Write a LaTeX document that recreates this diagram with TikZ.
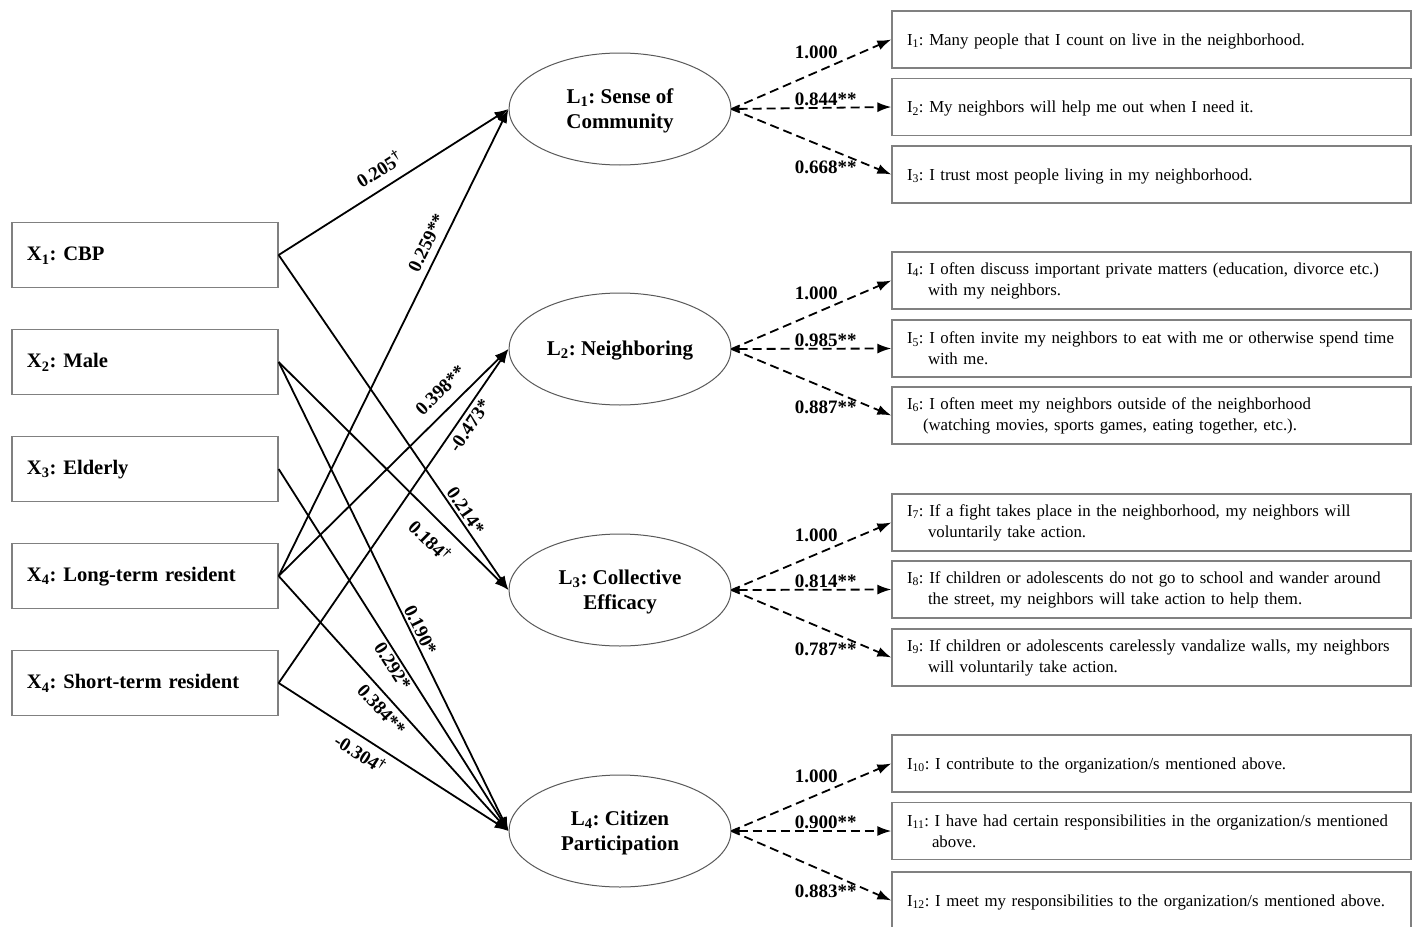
\documentclass[tikz,border=0pt]{standalone}
\usepackage{fontspec}
\setmainfont{Liberation Serif}
\usetikzlibrary{arrows.meta,shapes.geometric}
\begin{document}
\frenchspacing
\begin{tikzpicture}[x=1pt,y=-1pt,
  xbox/.style={draw=gray, line width=1.3pt, minimum width=266pt, minimum height=65pt, text width=236pt, align=left, inner xsep=15pt, font=\fontsize{20.6}{25}\selectfont\bfseries\frenchspacing},
  lat/.style={ellipse, draw=gray!70!black, line width=1pt, minimum width=222pt, minimum height=112pt, inner sep=0pt, align=center, font=\fontsize{21}{25}\selectfont\bfseries\frenchspacing},
  ibox/.style={draw=gray, line width=1.3pt, minimum width=519pt, minimum height=57pt, text width=489pt, align=left, inner xsep=15pt, font=\fontsize{16.8}{21}\selectfont\frenchspacing},
  pth/.style={line width=1.8pt, -{Latex[length=14pt,width=10pt]}},
  load/.style={line width=1.8pt, dash pattern=on 9pt off 5pt, -{Latex[length=14pt,width=10pt]}},
  loadm/.style={load, {Latex[length=8pt,width=7pt]}-{Latex[length=14pt,width=10pt]}},
  coef/.style={font=\fontsize{19}{22}\selectfont\bfseries, inner sep=1pt},
]
\useasboundingbox (0,0) rectangle (1413,926);
\fill[white] (0,0) rectangle (1413,926);

% exogenous boxes
\node[xbox] (x1) at (145,255) {\rule{0pt}{15pt}X\textsubscript{1}: CBP};
\node[xbox] (x2) at (145,362) {\rule{0pt}{15pt}X\textsubscript{2}: Male};
\node[xbox] (x3) at (145,469) {\rule{0pt}{15pt}X\textsubscript{3}: Elderly};
\node[xbox] (x4) at (145,576) {\rule{0pt}{15pt}X\textsubscript{4}: Long-term resident};
\node[xbox] (x5) at (145,683) {\rule{0pt}{15pt}X\textsubscript{4}: Short-term resident};

% latent
\node[lat] (L1) at (620,109) {\rule{0pt}{18pt}L\textsubscript{1}: Sense of\\Community};
\node[lat] (L2) at (620,349) {\rule{0pt}{18pt}L\textsubscript{2}: Neighboring};
\node[lat] (L3) at (620,590) {\rule{0pt}{18pt}L\textsubscript{3}: Collective\\Efficacy};
\node[lat] (L4) at (620,831) {\rule{0pt}{18pt}L\textsubscript{4}: Citizen\\Participation};

% indicators
\node[ibox] (i1) at (1151.5,39.5) {\rule{0pt}{15pt}\mbox{I\textsubscript{1}: Many people that I count on live in the neighborhood.}};
\node[ibox] (i2) at (1151.5,107) {\rule{0pt}{15pt}\mbox{I\textsubscript{2}: My neighbors will help me out when I need it.}};
\node[ibox] (i3) at (1151.5,174.5) {\rule{0pt}{15pt}\mbox{I\textsubscript{3}: I trust most people living in my neighborhood.}};
\node[ibox] (i4) at (1151.5,280.5) {\mbox{I\textsubscript{4}: I often discuss important private matters (education, divorce etc.)}\\\hspace*{21pt}with my neighbors.};
\node[ibox] (i5) at (1151.5,348.5) {\mbox{I\textsubscript{5}: I often invite my neighbors to eat with me or otherwise spend time}\\\hspace*{21pt}with me.};
\node[ibox] (i6) at (1151.5,415.5) {\mbox{I\textsubscript{6}: I often meet my neighbors outside of the neighborhood}\\\hspace*{16pt}\mbox{(watching movies, sports games, eating together, etc.).}};
\node[ibox] (i7) at (1151.5,522.5) {\mbox{I\textsubscript{7}: If a fight takes place in the neighborhood, my neighbors will}\\\hspace*{21pt}voluntarily take action.};
\node[ibox] (i8) at (1151.5,589.5) {\mbox{I\textsubscript{8}: If children or adolescents do not go to school and wander around}\\\hspace*{21pt}\mbox{the street, my neighbors will take action to help them.}};
\node[ibox] (i9) at (1151.5,657.5) {\mbox{I\textsubscript{9}: If children or adolescents carelessly vandalize walls, my neighbors}\\\hspace*{21pt}will voluntarily take action.};
\node[ibox] (i10) at (1151.5,763.5) {\rule{0pt}{15pt}\mbox{I\textsubscript{10}: I contribute to the organization/s mentioned above.}};
\node[ibox] (i11) at (1151.5,831) {\mbox{I\textsubscript{11}: I have had certain responsibilities in the organization/s mentioned}\\\hspace*{25pt}above.};
\node[ibox] (i12) at (1151.5,900.5) {\rule{0pt}{15pt}\mbox{I\textsubscript{12}: I meet my responsibilities to the organization/s mentioned above.}};

% structural paths
\draw[pth] (x1.east) -- node[coef, sloped, above=9pt, pos=.48]{0.205\textsuperscript{†}} (L1.west);
\draw[pth] (x4.east) -- node[coef, sloped, above=6pt, pos=.70]{0.259**} (L1.west);
\draw[pth] (x4.east) -- node[coef, sloped, above=10pt, pos=.76]{0.398**} (L2.west);
\draw[pth] (x5.east) -- node[coef, sloped, below=3pt, pos=.79]{-0.473*} (L2.west);
\draw[pth] (x1.east) -- node[coef, sloped, above=1pt, pos=.78]{0.214*} (L3.west);
\draw[pth] (x2.east) -- node[coef, sloped, below=10pt, pos=.72]{0.184\textsuperscript{†}} (L3.west);
\draw[pth] (x2.east) -- node[coef, sloped, above=1pt, pos=.58]{0.190*} (L4.west);
\draw[pth] (x3.east) -- node[coef, sloped, below=1pt, pos=.53]{0.292*} (L4.west);
\draw[pth] (x4.east) -- node[coef, sloped, below=5pt, pos=.49]{0.384**} (L4.west);
\draw[pth] (x5.east) -- node[coef, sloped, below=5pt, pos=.39]{-0.304\textsuperscript{†}} (L4.west);

% loadings
\draw[load] (L1.east) -- node[coef, pos=.53, above=11pt]{1.000} (i1.west);
\draw[loadm] (L1.east) -- node[coef, pos=.59, above=0pt]{0.844**} (i2.west);
\draw[load] (L1.east) -- node[coef, pos=.59, below=11pt]{0.668**} (i3.west);

\draw[load] (L2.east) -- node[coef, pos=.53, above=11pt]{1.000} (i4.west);
\draw[loadm] (L2.east) -- node[coef, pos=.59, above=0pt]{0.985**} (i5.west);
\draw[load] (L2.east) -- node[coef, pos=.59, below=11pt]{0.887**} (i6.west);

\draw[load] (L3.east) -- node[coef, pos=.53, above=11pt]{1.000} (i7.west);
\draw[loadm] (L3.east) -- node[coef, pos=.59, above=0pt]{0.814**} (i8.west);
\draw[load] (L3.east) -- node[coef, pos=.59, below=11pt]{0.787**} (i9.west);

\draw[load] (L4.east) -- node[coef, pos=.53, above=11pt]{1.000} (i10.west);
\draw[loadm] (L4.east) -- node[coef, pos=.59, above=0pt]{0.900**} (i11.west);
\draw[load] (L4.east) -- node[coef, pos=.59, below=11pt]{0.883**} (i12.west);
\end{tikzpicture}
\end{document}
